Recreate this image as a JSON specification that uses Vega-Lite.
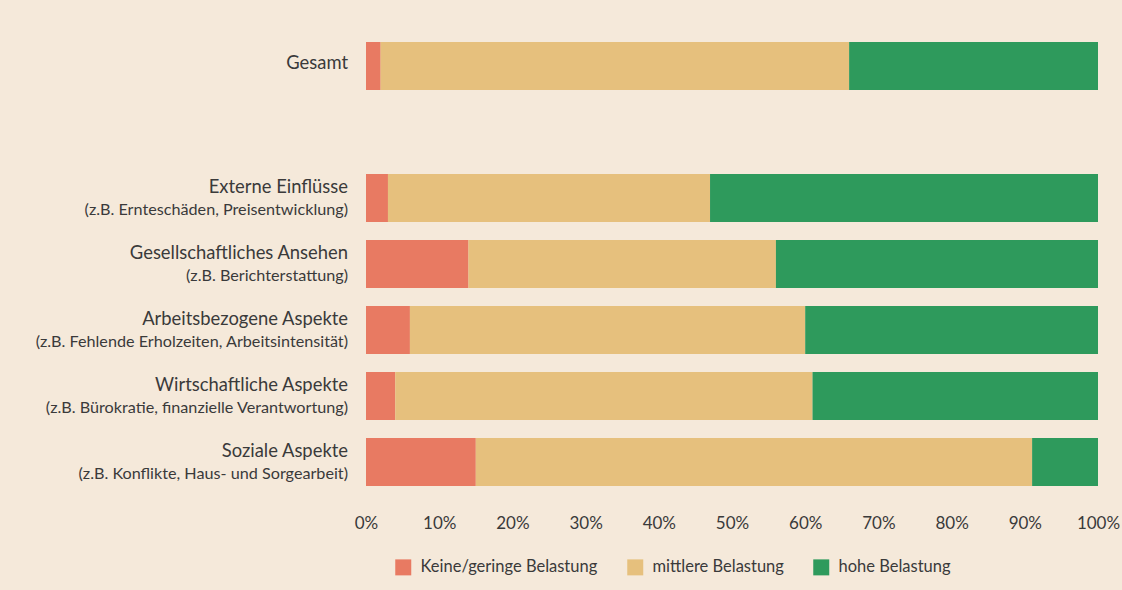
{
  "$schema": "https://vega.github.io/schema/vega-lite/v6.json",
  "width": 732,
  "height": 462,
  "autosize": {"type": "none"},
  "padding": {"left": 366, "top": 33, "right": 24, "bottom": 95},
  "background": "#f5e9da",
  "config": {
    "view": {"stroke": null},
    "font": "Lato",
    "text": {"font": "Lato", "color": "#3a3a3a"}
  },
  "datasets": {
    "bars": [
      {"cat": "Gesamt", "level": "Keine/geringe Belastung", "o": 1, "value": 2},
      {"cat": "Gesamt", "level": "mittlere Belastung", "o": 2, "value": 64},
      {"cat": "Gesamt", "level": "hohe Belastung", "o": 3, "value": 34},
      {"cat": "Externe", "level": "Keine/geringe Belastung", "o": 1, "value": 3},
      {"cat": "Externe", "level": "mittlere Belastung", "o": 2, "value": 44},
      {"cat": "Externe", "level": "hohe Belastung", "o": 3, "value": 53},
      {"cat": "Gesellschaft", "level": "Keine/geringe Belastung", "o": 1, "value": 14},
      {"cat": "Gesellschaft", "level": "mittlere Belastung", "o": 2, "value": 42},
      {"cat": "Gesellschaft", "level": "hohe Belastung", "o": 3, "value": 44},
      {"cat": "Arbeit", "level": "Keine/geringe Belastung", "o": 1, "value": 6},
      {"cat": "Arbeit", "level": "mittlere Belastung", "o": 2, "value": 54},
      {"cat": "Arbeit", "level": "hohe Belastung", "o": 3, "value": 40},
      {"cat": "Wirtschaft", "level": "Keine/geringe Belastung", "o": 1, "value": 4},
      {"cat": "Wirtschaft", "level": "mittlere Belastung", "o": 2, "value": 57},
      {"cat": "Wirtschaft", "level": "hohe Belastung", "o": 3, "value": 39},
      {"cat": "Soziale", "level": "Keine/geringe Belastung", "o": 1, "value": 15},
      {"cat": "Soziale", "level": "mittlere Belastung", "o": 2, "value": 76},
      {"cat": "Soziale", "level": "hohe Belastung", "o": 3, "value": 9}
    ],
    "labels": [
      {"cat": "Gesamt", "main": "Gesamt", "sub": ""},
      {"cat": "Externe", "main": "Externe Einflüsse", "sub": "(z.B. Ernteschäden, Preisentwicklung)"},
      {"cat": "Gesellschaft", "main": "Gesellschaftliches Ansehen", "sub": "(z.B. Berichterstattung)"},
      {"cat": "Arbeit", "main": "Arbeitsbezogene Aspekte", "sub": "(z.B. Fehlende Erholzeiten, Arbeitsintensität)"},
      {"cat": "Wirtschaft", "main": "Wirtschaftliche Aspekte", "sub": "(z.B. Bürokratie, finanzielle Verantwortung)"},
      {"cat": "Soziale", "main": "Soziale Aspekte", "sub": "(z.B. Konflikte, Haus- und Sorgearbeit)"}
    ]
  },
  "layer": [
    {
      "data": {"name": "bars"},
      "mark": {"type": "bar"},
      "encoding": {
        "y": {
          "field": "cat", "type": "nominal",
          "scale": {"domain": ["Gesamt", "_gap", "Externe", "Gesellschaft", "Arbeit", "Wirtschaft", "Soziale"], "paddingInner": 0.2727, "paddingOuter": 0.1364},
          "axis": null
        },
        "x": {
          "field": "value", "type": "quantitative", "stack": "zero",
          "scale": {"domain": [0, 100], "nice": false},
          "axis": {
            "title": null, "values": [0, 10, 20, 30, 40, 50, 60, 70, 80, 90, 100],
            "labelExpr": "datum.value + '%'", "domain": false, "ticks": false, "tickSize": 0, "grid": false,
            "labelFlush": false, "labelOverlap": false,
            "labelPadding": 28, "labelBaseline": "middle", "labelFontSize": 17, "labelColor": "#3a3a3a", "labelFont": "Lato"
          }
        },
        "order": {"field": "o", "type": "quantitative"},
        "color": {
          "field": "level", "type": "nominal",
          "scale": {"domain": ["Keine/geringe Belastung", "mittlere Belastung", "hohe Belastung"], "range": ["#e87a62", "#e6c07d", "#2e9a5c"]},
          "legend": {
            "title": null, "orient": "none", "direction": "horizontal", "legendX": 29, "legendY": 526,
            "symbolType": "square", "symbolSize": 256, "symbolStrokeWidth": 0, "symbolOpacity": 1,
            "labelFontSize": 16.5, "labelColor": "#3a3a3a", "labelFont": "Lato", "labelOffset": 9, "columnPadding": 29, "padding": 0, "labelLimit": 300
          }
        }
      }
    },
    {
      "data": {"name": "labels"},
      "transform": [{"filter": "datum.sub == ''"}],
      "mark": {"type": "text", "align": "right", "baseline": "middle", "dx": -18, "dy": -3, "fontSize": 18.4, "color": "#3a3a3a"},
      "encoding": {
        "y": {"field": "cat", "type": "nominal"},
        "x": {"datum": 0},
        "text": {"field": "main"}
      }
    },
    {
      "data": {"name": "labels"},
      "transform": [{"filter": "datum.sub != ''"}],
      "mark": {"type": "text", "align": "right", "baseline": "middle", "dx": -18, "dy": -11, "fontSize": 18.4, "color": "#3a3a3a"},
      "encoding": {
        "y": {"field": "cat", "type": "nominal"},
        "x": {"datum": 0},
        "text": {"field": "main"}
      }
    },
    {
      "data": {"name": "labels"},
      "transform": [{"filter": "datum.sub != ''"}],
      "mark": {"type": "text", "align": "right", "baseline": "middle", "dx": -18, "dy": 12, "fontSize": 16.2, "color": "#3a3a3a"},
      "encoding": {
        "y": {"field": "cat", "type": "nominal"},
        "x": {"datum": 0},
        "text": {"field": "sub"}
      }
    }
  ]
}
